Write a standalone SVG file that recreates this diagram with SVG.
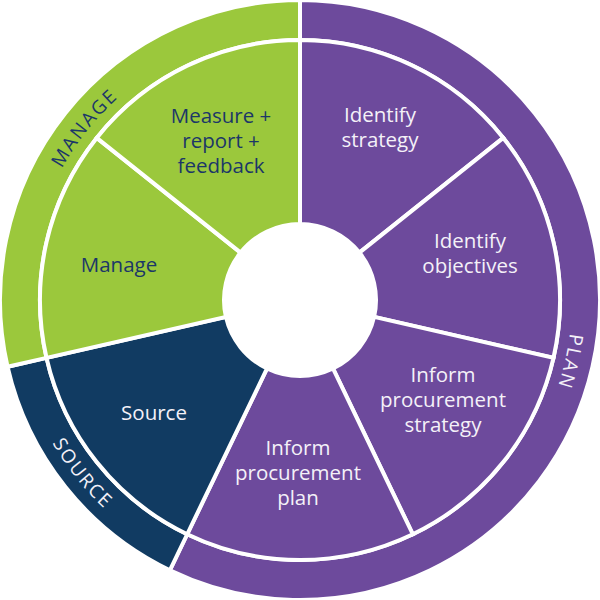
<svg xmlns="http://www.w3.org/2000/svg" width="600" height="600" viewBox="0 0 600 600">
<style>
.seg{stroke:#ffffff;stroke-width:4;stroke-linejoin:miter}
.g{fill:#9BC83C}
.p{fill:#6D4A9C}
.n{fill:#113B62}
.t{font-family:"Open Sans","DejaVu Sans",sans-serif;font-size:20.5px;text-anchor:middle}
.dk{fill:#1B3768}
.wt{fill:#F4F1F8}
.ring{font-family:"Open Sans","DejaVu Sans",sans-serif;font-size:19px;letter-spacing:2px}
</style>
<defs>
<path id="arcPlan" d="M300,28 A272,272 0 1 1 181.99,545.06"/>
<path id="arcManage" d="M34.82,360.53 A272,272 0 0 1 300,28"/>
<path id="arcSource" d="M21.17,363.64 A286,286 0 0 0 175.91,557.68"/>
</defs>
<rect width="600" height="600" fill="#ffffff"/>
<g id="band-plan">
<path class="seg p" d="M300,0 A300,300 0 1 1 169.84,570.29 L187.19,534.25 A260,260 0 1 0 300,40 Z"/>
<text class="ring wt"><textPath href="#arcPlan" startOffset="50%" text-anchor="middle">PLAN</textPath></text>
</g>
<g id="band-source">
<path class="seg n" d="M169.84,570.29 A300,300 0 0 1 7.52,366.76 L46.52,357.86 A260,260 0 0 0 187.19,534.25 Z"/>
<text class="ring wt"><textPath href="#arcSource" startOffset="50%" text-anchor="middle">SOURCE</textPath></text>
</g>
<g id="band-manage">
<path class="seg g" d="M7.52,366.76 A300,300 0 0 1 300,0 L300,40 A260,260 0 0 0 46.52,357.86 Z"/>
<text class="ring dk"><textPath href="#arcManage" startOffset="50%" text-anchor="middle">MANAGE</textPath></text>
</g>
<g id="identify-strategy">
<path class="seg p" d="M300,40 A260,260 0 0 1 503.28,137.89 L359.42,252.62 A76,76 0 0 0 300,224 Z"/>
<text class="t wt" x="380" y="122">Identify</text>
<text class="t wt" x="380" y="147">strategy</text>
</g>
<g id="identify-objectives">
<path class="seg p" d="M503.28,137.89 A260,260 0 0 1 553.48,357.86 L374.09,316.91 A76,76 0 0 0 359.42,252.62 Z"/>
<text class="t wt" x="470" y="248">Identify</text>
<text class="t wt" x="470" y="273">objectives</text>
</g>
<g id="inform-procurement-strategy">
<path class="seg p" d="M553.48,357.86 A260,260 0 0 1 412.81,534.25 L332.97,368.47 A76,76 0 0 0 374.09,316.91 Z"/>
<text class="t wt" x="443" y="382">Inform</text>
<text class="t wt" x="443" y="407">procurement</text>
<text class="t wt" x="443" y="432">strategy</text>
</g>
<g id="inform-procurement-plan">
<path class="seg p" d="M412.81,534.25 A260,260 0 0 1 187.19,534.25 L267.03,368.47 A76,76 0 0 0 332.97,368.47 Z"/>
<text class="t wt" x="298" y="455">Inform</text>
<text class="t wt" x="298" y="480">procurement</text>
<text class="t wt" x="298" y="505">plan</text>
</g>
<g id="source">
<path class="seg n" d="M187.19,534.25 A260,260 0 0 1 46.52,357.86 L225.91,316.91 A76,76 0 0 0 267.03,368.47 Z"/>
<text class="t wt" x="154" y="420">Source</text>
</g>
<g id="manage">
<path class="seg g" d="M46.52,357.86 A260,260 0 0 1 96.72,137.89 L240.58,252.62 A76,76 0 0 0 225.91,316.91 Z"/>
<text class="t dk" x="119" y="272">Manage</text>
</g>
<g id="measure-report-feedback">
<path class="seg g" d="M96.72,137.89 A260,260 0 0 1 300,40 L300,224 A76,76 0 0 0 240.58,252.62 Z"/>
<text class="t dk" x="221" y="123">Measure +</text>
<text class="t dk" x="221" y="148">report +</text>
<text class="t dk" x="221" y="173">feedback</text>
</g>
<g id="connectors"></g>
</svg>
